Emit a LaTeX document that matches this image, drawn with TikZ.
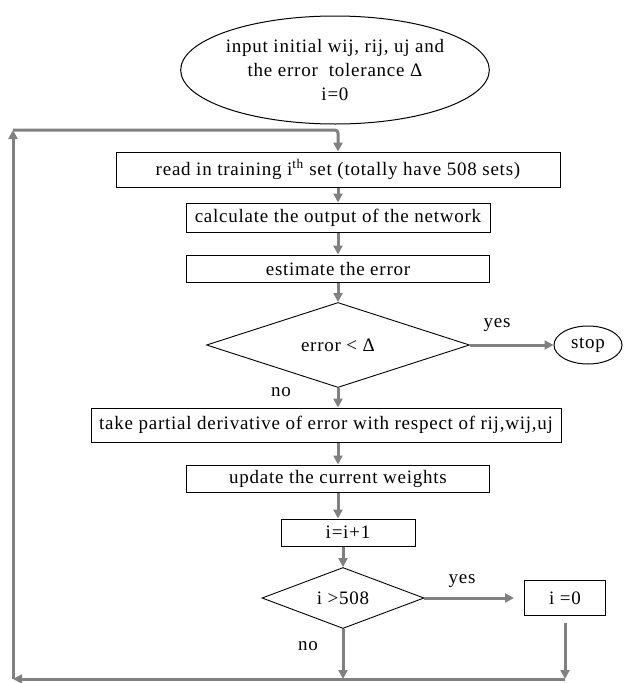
\documentclass[tikz,border=0pt]{standalone}
\usepackage{fontspec}
\setmainfont[LetterSpace=4]{Liberation Serif}
\usepackage{tikz}
\usetikzlibrary{shapes.geometric, arrows.meta}

\begin{document}
\begin{tikzpicture}[x=1pt, y=-1pt, font=\fontsize{19}{24}\selectfont,
    stepbox/.style={draw, line width=1pt, inner sep=0pt},
    decision/.style={diamond, draw, line width=0.9pt, inner sep=0pt, shape aspect=2},
    flow/.style={draw=gray, line width=3pt, -{Triangle[length=9pt, width=9pt]}}]
  \useasboundingbox (0,0) rectangle (624,683);

  % start and the main column
  \node[ellipse, draw, line width=1pt, minimum width=306, minimum height=108, inner sep=0pt, align=center] (init) at (335,70)
    {input initial wij, rij, uj and\\the error~ tolerance Δ\\i=0};
  \node[stepbox, minimum width=444, minimum height=35] (read) at (338,169.5)
    {read in training i\textsuperscript{th} set (totally have 508 sets)};
  \node[stepbox, minimum width=304, minimum height=29] (calc) at (338,217.5) {calculate the output of the network};
  \node[stepbox, minimum width=303, minimum height=27] (estimate) at (338,268.5) {estimate the error};
  \node[decision, minimum width=263, minimum height=85] (err) at (338,345) {error < Δ};
  \node[ellipse, draw, line width=1pt, minimum width=68, minimum height=38, inner sep=0pt] (stop) at (588,345) {stop};
  \node[stepbox, minimum width=470, minimum height=34] (partial) at (326,425)
    {take partial derivative of error with respect of rij,wij,uj};
  \node[stepbox, minimum width=303, minimum height=27] (update) at (338,478.5) {update the current weights};
  \node[stepbox, minimum width=134, minimum height=27] (incr) at (348,532.5) {i=i+1};
  \node[decision, minimum width=162, minimum height=61] (check) at (343,598) {i >508};
  \node[stepbox, minimum width=81, minimum height=35] (reset) at (565,598) {i =0};

  % branch labels
  \node (yesA) at (497,325) {yes};
  \node (noA) at (281,392) {no};
  \node (yesB) at (462,581) {yes};
  \node (noB) at (308,646) {no};

  % loop back to the top
  \coordinate (loopbl) at (13,679);
  \coordinate (looptl) at (13,130);
  \coordinate (loopbr) at (reset |- loopbl);

  \draw[flow] (read) -- (calc);
  \draw[flow] (calc) -- (estimate);
  \draw[flow] (estimate) -- (err);
  \draw[flow] (err) -- (stop);
  \draw[flow] (err) -- (err.south |- partial.north);
  \draw[flow] (partial.south -| update) -- (update);
  \draw[flow] (update.south) -- (update.south |- incr.north);
  \draw[flow] (incr.south -| check) -- (check);
  \draw[flow, shorten >=10pt] (check) -- (reset);
  \draw[flow] (check) -- (check |- loopbl);
  \draw[flow, shorten <=7pt] (reset) -- (loopbr);
  \draw[flow] (loopbr) -- (loopbl);
  \draw[flow] (loopbl) -- (looptl);
  \draw[flow, rounded corners=3pt] (looptl) -- (looptl -| read) -- (read);
\end{tikzpicture}
\end{document}
